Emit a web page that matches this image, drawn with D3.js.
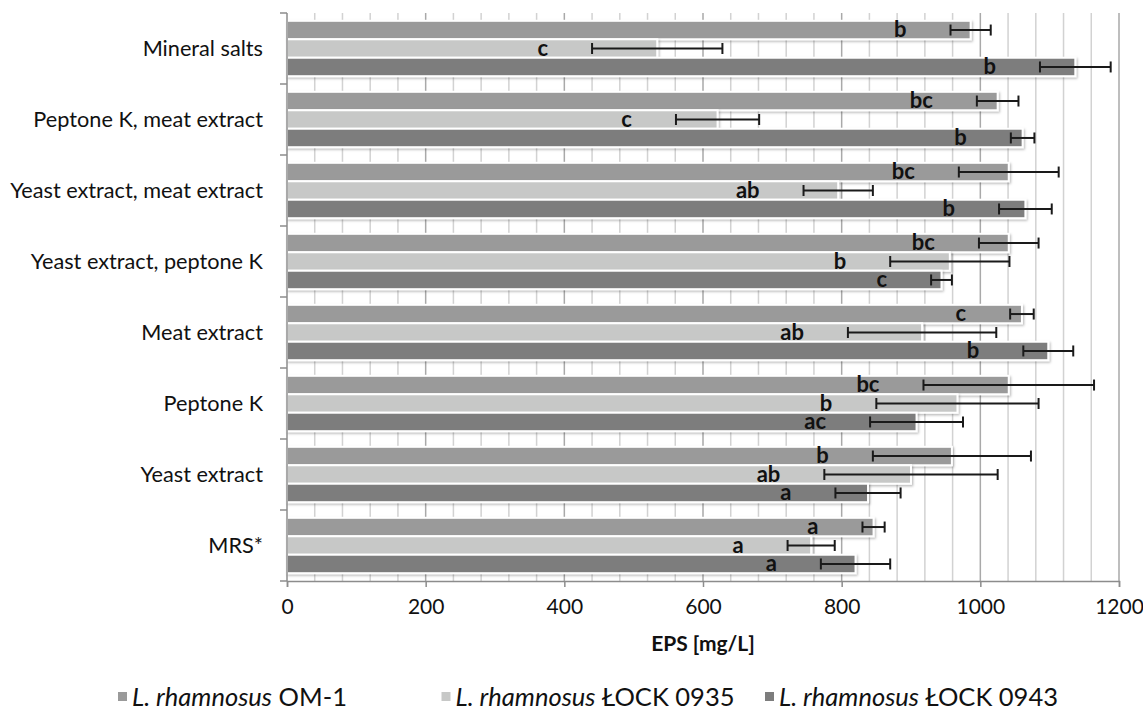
<!DOCTYPE html>
<html>
<head>
<meta charset="utf-8">
<script src="https://cdn.jsdelivr.net/npm/d3@7/dist/d3.min.js"></script>
<style>
  html, body { margin: 0; padding: 0; background: #fff; }
  svg { display: block; }
  text { font-family: Lato, "Open Sans", sans-serif; fill: #111; }
</style>
</head>
<body>
<svg id="chart" width="1143" height="725"></svg>
<script>
// ---------- data ----------
const categories = [
  "Mineral salts",
  "Peptone K, meat extract",
  "Yeast extract, meat extract",
  "Yeast extract, peptone K",
  "Meat extract",
  "Peptone K",
  "Yeast extract",
  "MRS*"
];
const seriesNames = ["OM-1", "ŁOCK 0935", "ŁOCK 0943"];

const om1Values   = [986, 1025, 1041, 1041, 1060, 1041, 959, 846];
const om1Errors   = [29, 30, 72, 43, 17, 123, 114, 16];
const om1Letters  = ["b", "bc", "bc", "bc", "c", "bc", "b", "a"];

const l0935Values  = [534, 621, 795, 956, 916, 967, 900, 756];
const l0935Errors  = [94, 60, 50, 86, 107, 117, 125, 34];
const l0935Letters = ["c", "c", "ab", "b", "ab", "b", "ab", "a"];

const l0943Values  = [1137, 1061, 1065, 944, 1098, 908, 838, 820];
const l0943Errors  = [51, 17, 38, 15, 36, 67, 47, 50];
const l0943Letters = ["b", "b", "b", "c", "b", "ac", "a", "a"];

const xTickValues = [0, 200, 400, 600, 800, 1000, 1200];
const xDomain = [0, 1200];
const gridStep = 40;
const xTitle = "EPS [mg/L]";
const speciesName = "L. rhamnosus";

// ---------- build ----------
(function () {
const colors = ["#9a9a9a", "#c7c8c7", "#7d7d7d"];
const valueSets = [om1Values, l0935Values, l0943Values];
const errorSets = [om1Errors, l0935Errors, l0943Errors];
const letterSets = [om1Letters, l0935Letters, l0943Letters];

const rows = [];
categories.forEach((c, ci) => {
  seriesNames.forEach((s, si) => {
    rows.push({cat: c, series: s, si,
      value: valueSets[si][ci], err: errorSets[si][ci], letter: letterSets[si][ci]});
  });
});

const svg = d3.select("#chart");
const pLeft = 287, pRight = 1119, pTop = 13, pBottom = 581;

const x = d3.scaleLinear().domain(xDomain).range([pLeft, pRight]);
const y = d3.scaleBand().domain(categories).range([pTop, pBottom])
  .paddingInner(0.22).paddingOuter(0.11);
const ys = d3.scaleBand().domain(seriesNames).range([0, y.bandwidth()]);
const color = d3.scaleOrdinal().domain(seriesNames).range(colors);

// shadow filter
const defs = svg.append("defs");
const f = defs.append("filter").attr("id", "shadow")
  .attr("x", "-5%").attr("y", "-30%").attr("width", "110%").attr("height", "170%");
f.append("feDropShadow").attr("dx", 1.2).attr("dy", 1.5)
  .attr("stdDeviation", 1.1).attr("flood-color", "#000").attr("flood-opacity", 0.28);

// gridlines
const gridVals = d3.range(xDomain[0] + gridStep, xDomain[1] + 1, gridStep);
svg.append("g").selectAll("line").data(gridVals).join("line")
  .attr("x1", d => x(d)).attr("x2", d => x(d))
  .attr("y1", pTop).attr("y2", pBottom)
  .attr("stroke", d => d % 200 === 0 ? "#a9a9a9" : "#d2d2d2")
  .attr("stroke-width", 1.5);

// bars
svg.append("g").selectAll("rect").data(rows).join("rect")
  .attr("x", x(0))
  .attr("y", d => y(d.cat) + ys(d.series))
  .attr("width", d => x(d.value) - x(0))
  .attr("height", ys.bandwidth())
  .attr("fill", d => color(d.series))
  .attr("stroke", "#fff")
  .attr("stroke-width", 2)
  .attr("filter", "url(#shadow)");

// error bars
const eb = svg.append("g").attr("stroke", "#1a1a1a").attr("stroke-width", 2);
rows.forEach(d => {
  const cy = y(d.cat) + ys(d.series) + ys.bandwidth() / 2;
  const x0 = x(d.value - d.err), x1 = x(d.value + d.err);
  eb.append("line").attr("x1", x0).attr("x2", x1).attr("y1", cy).attr("y2", cy);
  eb.append("line").attr("x1", x0).attr("x2", x0).attr("y1", cy - 5.5).attr("y2", cy + 5.5);
  eb.append("line").attr("x1", x1).attr("x2", x1).attr("y1", cy - 5.5).attr("y2", cy + 5.5);
});

// significance letters
svg.append("g").selectAll("text").data(rows).join("text")
  .attr("x", d => x(d.value - d.err) - 44)
  .attr("y", d => y(d.cat) + ys(d.series) + ys.bandwidth() - 2)
  .attr("text-anchor", "end")
  .attr("font-size", 22).attr("font-weight", 700)
  .text(d => d.letter);

// left axis
const axisColor = "#8c8c8c";
svg.append("line").attr("x1", pLeft).attr("x2", pLeft).attr("y1", pTop).attr("y2", pBottom)
  .attr("stroke", axisColor).attr("stroke-width", 1.5);
const boundaries = categories.map(c => y(c) - y.step() * y.paddingInner() / 2)
  .concat([pBottom]);
svg.append("g").selectAll("line").data(boundaries).join("line")
  .attr("x1", pLeft - 7).attr("x2", pLeft).attr("y1", d => d).attr("y2", d => d)
  .attr("stroke", axisColor).attr("stroke-width", 1.5);
svg.append("g").selectAll("text").data(categories).join("text")
  .attr("x", 263).attr("y", d => y(d) + y.bandwidth() / 2 + 7)
  .attr("text-anchor", "end").attr("font-size", 21.7)
  .text(d => d);

// bottom axis
const xAxis = svg.append("g").attr("transform", `translate(0,${pBottom})`)
  .call(d3.axisBottom(x).tickValues(xTickValues).tickSize(6).tickPadding(12)
    .tickFormat(d3.format("d")));
xAxis.select(".domain").attr("stroke", axisColor).attr("stroke-width", 1.5);
xAxis.selectAll(".tick line").attr("stroke", axisColor).attr("stroke-width", 1.5);
xAxis.selectAll(".tick text").attr("font-size", 21).attr("font-family", "Lato, sans-serif")
  .attr("fill", "#111");

svg.append("text").attr("x", (pLeft + pRight) / 2).attr("y", 651)
  .attr("text-anchor", "middle").attr("font-size", 21).attr("font-weight", 700)
  .text(xTitle);

// legend
const legend = svg.append("g");
const legX = d3.scalePoint().domain(seriesNames).range([118, 765]);
seriesNames.forEach(s => {
  const g = legend.append("g").attr("transform", `translate(${legX(s)},697)`);
  g.append("rect").attr("x", 0).attr("y", -5).attr("width", 9).attr("height", 9)
    .attr("fill", color(s));
  const t = g.append("text").attr("x", 14).attr("y", 8.5).attr("font-size", 25.5);
  t.append("tspan").attr("font-style", "italic").text(speciesName);
  t.append("tspan").text(" " + s);
});
})();
</script>
</body>
</html>
